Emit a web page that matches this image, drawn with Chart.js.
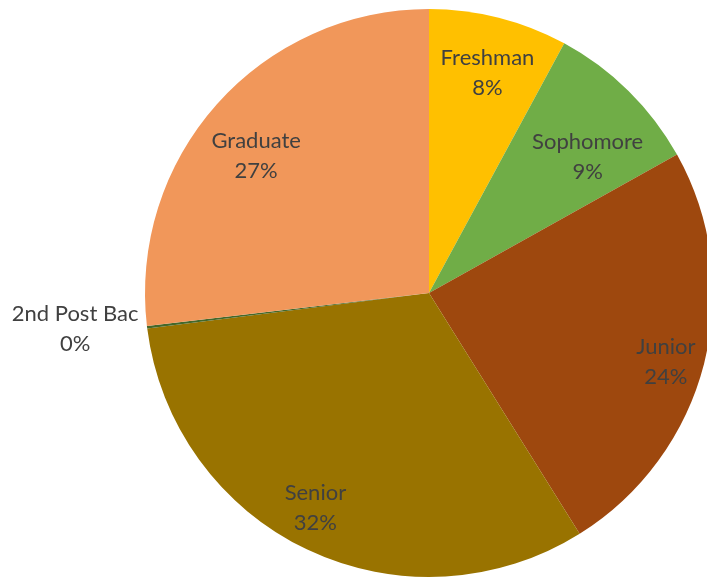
<!DOCTYPE html>
<html>
<head>
<meta charset="utf-8">
<script src="https://cdn.jsdelivr.net/npm/chart.js@4/dist/chart.umd.min.js"></script>
<style>
  html, body { margin:0; padding:0; background:#fff; overflow:hidden; }
  #wrap { position:relative; width:729px; height:590px; }
</style>
</head>
<body>
<div id="wrap"><canvas id="pie"></canvas></div>
<script>
/* ---------- data ---------- */
const classLabels = ['Freshman', 'Sophomore', 'Junior', 'Senior', '2nd Post Bac', 'Graduate'];
const classShares = [7.9, 9.0, 24.2, 31.9, 0.15, 26.85];
const sliceColors = ['#FFC000', '#70AD47', '#9E480E', '#997300', '#43682B', '#F1975A'];

/* ---------- label plugin (Excel-like "best fit" data labels) ---------- */
const LABEL_FONT  = '22px Lato, sans-serif';
const LABEL_COLOR = '#404040';
const LINE_GAP    = 30;
const X_SQUEEZE   = 1;
// small per-label pixel nudges, Excel's best-fit does not sit on one radius
const labelNudge  = [[2, 3], [-3, 28], [14, 12], [-15, 7], [0, 0], [-1, 16]];

function drawLine(ctx, txt, x, y) {
  ctx.save();
  ctx.translate(x, y);
  ctx.scale(X_SQUEEZE, 1);
  ctx.textAlign = 'center';
  ctx.fillText(txt, 0, 0);
  ctx.restore();
}

const pieLabels = {
  id: 'pieLabels',
  afterDatasetsDraw(chart) {
    const ctx   = chart.ctx;
    const meta  = chart.getDatasetMeta(0);
    const total = classShares.reduce((a, b) => a + b, 0);
    ctx.save();
    ctx.font = LABEL_FONT;
    ctx.fillStyle = LABEL_COLOR;
    ctx.textBaseline = 'middle';
    meta.data.forEach((arc, i) => {
      const p   = arc.getProps(['x', 'y', 'startAngle', 'endAngle', 'outerRadius'], true);
      const mid = (p.startAngle + p.endAngle) / 2;
      const pct = Math.round(classShares[i] / total * 100) + '%';
      let cx, cy;
      if (classShares[i] / total < 0.01) {
        // tiny slice: label sits outside, left of the edge
        cx = p.x + Math.cos(mid) * p.outerRadius - 72;
        cy = p.y + Math.sin(mid) * p.outerRadius + 2;
      } else {
        const r = p.outerRadius * 0.81;
        cx = p.x + Math.cos(mid) * r + labelNudge[i][0];
        cy = p.y + Math.sin(mid) * r + labelNudge[i][1];
      }
      drawLine(ctx, classLabels[i], cx, cy - LINE_GAP / 2);
      drawLine(ctx, pct, cx, cy + LINE_GAP / 2);
    });
    ctx.restore();
  }
};

/* ---------- chart ---------- */
new Chart(document.getElementById('pie'), {
  type: 'pie',
  data: {
    labels: classLabels,
    datasets: [{
      data: classShares,
      backgroundColor: sliceColors,
      borderWidth: 0
    }]
  },
  options: {
    responsive: true,
    maintainAspectRatio: false,
    animation: false,
    layout: { padding: { top: 9, bottom: 13, left: 129, right: 0 } },
    plugins: {
      legend:  { display: false },
      tooltip: { enabled: false }
    }
  },
  plugins: [pieLabels]
});
</script>
</body>
</html>
